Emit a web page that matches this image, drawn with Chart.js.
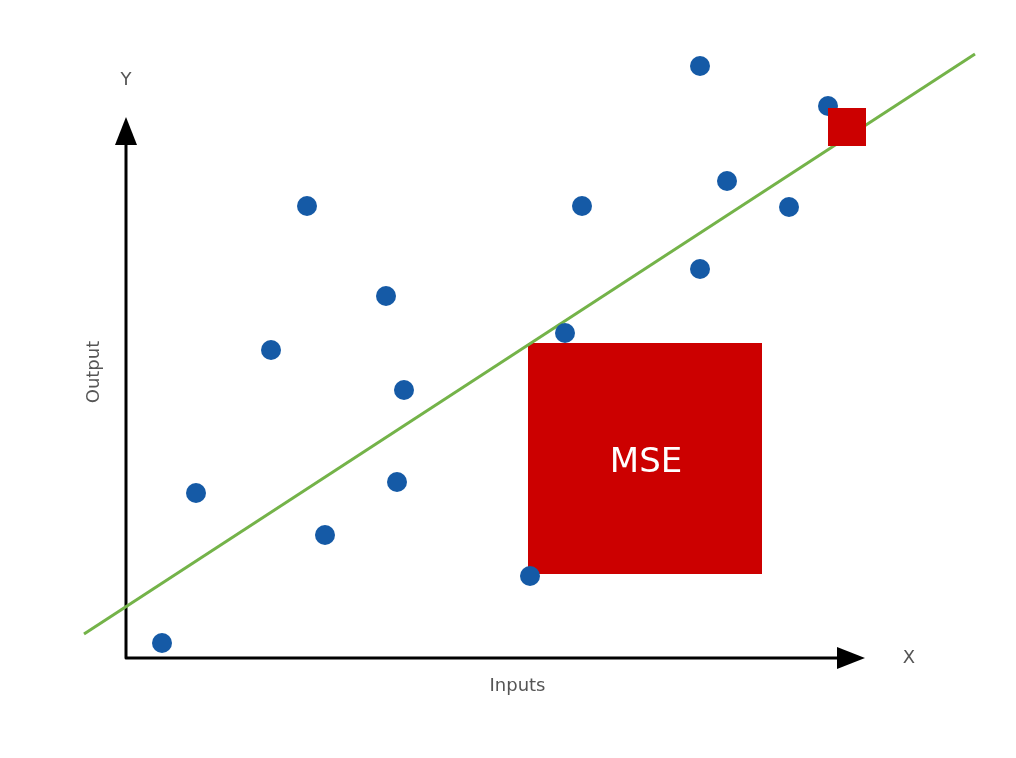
<!DOCTYPE html>
<html>
<head>
<meta charset="utf-8">
<script src="https://cdn.jsdelivr.net/npm/chart.js@4"></script>
<style>
html,body{margin:0;padding:0;background:#fff;}
#wrap{width:1016px;height:758px;}
</style>
</head>
<body>
<div id="wrap"><canvas id="c" width="1016" height="758"></canvas></div>
<script>
// Data (units: origin at the axes corner)
const pointsX = [36, 70, 145, 181, 199, 260, 278, 271, 404, 439, 456, 574, 574, 601, 663, 702];
const pointsY = [15, 165, 308, 452, 123, 362, 268, 176, 82, 325, 452, 592, 389, 477, 451, 552];
const fitLineX = [-42, 849];
const fitLineY = [24, 604];
const mseSquareX = [402, 636];
const mseSquareY = [84, 315];
const residualSquareX = [702, 740];
const residualSquareY = [512, 550];
const axisXEnd = 739;
const axisYEnd = 541;
const labelMSE = 'MSE';
const labelX = 'X', labelY = 'Y', titleX = 'Inputs', titleY = 'Output';

const FONT = '"DejaVu Sans", "Noto Sans", sans-serif';

const diagramPlugin = {
  id: 'diagram',
  beforeDatasetsDraw(chart) {
    const {ctx, scales: {x, y}} = chart;
    ctx.save();
    // axes
    const ox = x.getPixelForValue(0), oy = y.getPixelForValue(0);
    const xe = x.getPixelForValue(axisXEnd), ye = y.getPixelForValue(axisYEnd);
    const ah = 28, aw = 11;
    ctx.strokeStyle = '#000';
    ctx.fillStyle = '#000';
    ctx.lineWidth = 3;
    ctx.lineJoin = 'round';
    ctx.beginPath();
    ctx.moveTo(ox, ye + ah - 2);
    ctx.lineTo(ox, oy);
    ctx.lineTo(xe - ah + 2, oy);
    ctx.stroke();
    ctx.beginPath();
    ctx.moveTo(ox, ye);
    ctx.lineTo(ox - aw, ye + ah);
    ctx.lineTo(ox + aw, ye + ah);
    ctx.closePath();
    ctx.fill();
    ctx.beginPath();
    ctx.moveTo(xe, oy);
    ctx.lineTo(xe - ah, oy - aw);
    ctx.lineTo(xe - ah, oy + aw);
    ctx.closePath();
    ctx.fill();
    // labels
    ctx.fillStyle = '#555';
    ctx.font = '18px ' + FONT;
    ctx.textAlign = 'center';
    ctx.textBaseline = 'middle';
    ctx.fillText(labelY, ox, ye - 37);
    ctx.fillText(labelX, xe + 44, oy);
    ctx.font = '18px ' + FONT;
    ctx.fillText(titleX, x.getPixelForValue(axisXEnd / 2) + 22, oy + 28);
    ctx.save();
    ctx.translate(ox - 32, y.getPixelForValue(286));
    ctx.rotate(-Math.PI / 2);
    ctx.fillText(titleY, 0, 0);
    ctx.restore();
    // MSE square
    const l = x.getPixelForValue(mseSquareX[0]), r = x.getPixelForValue(mseSquareX[1]);
    const t = y.getPixelForValue(mseSquareY[1]), b = y.getPixelForValue(mseSquareY[0]);
    ctx.fillStyle = '#cc0000';
    ctx.fillRect(l, t, r - l, b - t);
    ctx.fillStyle = '#fff';
    ctx.font = '34px ' + FONT;
    ctx.fillText(labelMSE, (l + r) / 2 + 1, (t + b) / 2 + 5);
    ctx.restore();
  },
  afterDatasetsDraw(chart) {
    const {ctx, scales: {x, y}} = chart;
    const l = x.getPixelForValue(residualSquareX[0]), r = x.getPixelForValue(residualSquareX[1]);
    const t = y.getPixelForValue(residualSquareY[1]), b = y.getPixelForValue(residualSquareY[0]);
    ctx.save();
    ctx.fillStyle = '#cc0000';
    ctx.fillRect(l, t, r - l, b - t);
    ctx.restore();
  }
};

new Chart(document.getElementById('c'), {
  type: 'scatter',
  data: {
    datasets: [
      {
        label: 'points',
        data: pointsX.map((v, i) => ({x: v, y: pointsY[i]})),
        backgroundColor: '#155aa6',
        borderColor: '#155aa6',
        pointRadius: 10,
        pointHoverRadius: 10,
        borderWidth: 0,
        order: 1
      },
      {
        type: 'line',
        label: 'fit',
        data: fitLineX.map((v, i) => ({x: v, y: fitLineY[i]})),
        borderColor: '#74b349',
        borderWidth: 3,
        pointRadius: 0,
        fill: false,
        order: 2
      }
    ]
  },
  options: {
    responsive: false,
    animation: false,
    devicePixelRatio: 1,
    layout: {padding: 0, autoPadding: false},
    plugins: {legend: {display: false}, tooltip: {enabled: false}},
    scales: {
      x: {type: 'linear', min: -126, max: 890, display: false},
      y: {type: 'linear', min: -100, max: 658, display: false}
    }
  },
  plugins: [diagramPlugin]
});
</script>
</body>
</html>
